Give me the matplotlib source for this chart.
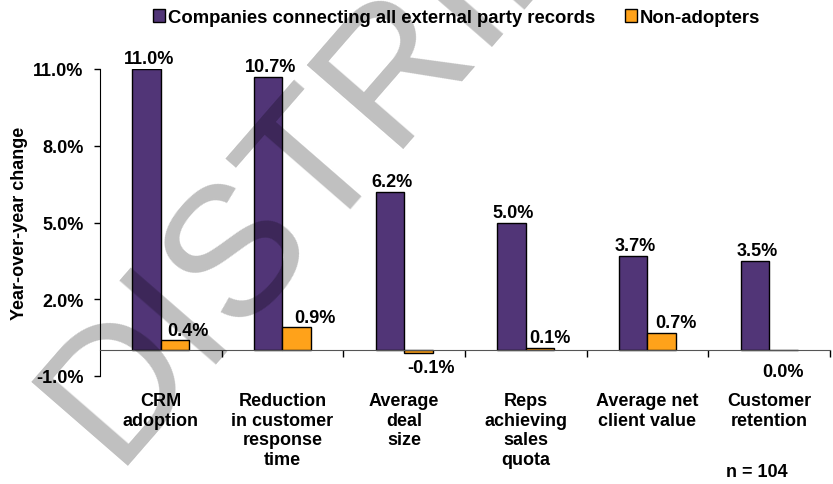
import matplotlib
matplotlib.use("Agg")
import matplotlib.pyplot as plt
import numpy as np

plt.rcParams['font.family'] = ['Liberation Sans', 'DejaVu Sans']
plt.rcParams['font.weight'] = 'bold'

categories = ['CRM\nadoption', 'Reduction\nin customer\nresponse\ntime', 'Average\ndeal\nsize',
              'Reps\nachieving\nsales\nquota', 'Average net\nclient value', 'Customer\nretention']
adopters = [11.0, 10.7, 6.2, 5.0, 3.7, 3.5]
non_adopters = [0.4, 0.9, -0.1, 0.1, 0.7, 0.0]
series_names = ['Companies connecting all external party records', 'Non-adopters']
yticks = [-1.0, 2.0, 5.0, 8.0, 11.0]

purple = '#513577'
orange = '#FFA21A'

fig = plt.figure(figsize=(8.33, 4.85), dpi=100)
ax = fig.add_axes([100/833, 1-377/485, 730/833, 307/485])

x = np.arange(len(categories))
w = 0.235
b1 = ax.bar(x - w/2, adopters, w, color=purple, edgecolor='black', linewidth=1, label=series_names[0], zorder=2)
b2 = ax.bar(x + w/2, non_adopters, w, color=orange, edgecolor='black', linewidth=1, label=series_names[1], zorder=2)

# value labels
for xi, v in zip(x, adopters):
    ax.annotate('%.1f%%' % v, (xi - w/2, v), xytext=(1.5, 4), textcoords='offset points',
                ha='center', va='baseline', fontsize=13, fontweight='bold')
orange_dx = [9, 13, 9, 7, 10, 0]
for xi, v, dx in zip(x, non_adopters, orange_dx):
    if v > 0:
        ax.annotate('%.1f%%' % v, (xi + w/2, v), xytext=(dx, 4), textcoords='offset points',
                    ha='center', va='baseline', fontsize=13, fontweight='bold')
    else:
        off = -4 if v < 0 else -9
        ax.annotate('%.1f%%' % v, (xi + w/2, v), xytext=(dx, off), textcoords='offset points',
                    ha='center', va='top', fontsize=13, fontweight='bold')

ax.set_xlim(-0.5, len(categories) - 0.5)
ax.set_ylim(-1, 11)
ax.set_yticks(yticks)
ax.set_yticklabels(['%.1f%%' % t for t in yticks])
ax.tick_params(axis='y', length=4, width=1, pad=8, labelsize=13)

ax.set_xticks(x)
ax.set_xticklabels(categories, linespacing=1.06)
ax.set_xticks(np.arange(len(categories)) + 0.5, minor=True)
ax.tick_params(axis='x', which='major', length=0, pad=30, labelsize=13)
ax.tick_params(axis='x', which='minor', length=5, width=1, direction='out')

ax.spines['top'].set_visible(False)
ax.spines['right'].set_visible(False)
ax.spines['bottom'].set_position(('data', 0))
ax.spines['bottom'].set_color('#555555')

ax.set_ylabel('Year-over-year change', fontsize=13, fontweight='bold')
ax.yaxis.set_label_coords(-0.098, 0.5)

fig.legend(handles=[b1, b2], loc='center', bbox_to_anchor=(0.548, 0.962), ncol=2, frameon=False,
           prop={'size': 13.3, 'weight': 'bold'}, handlelength=0.65, handleheight=0.65,
           handletextpad=0.15, columnspacing=1.6)

fig.text(757/833, 1-473/485, 'n = 104', ha='center', va='center', fontsize=13, fontweight='bold')

# watermark
fig.text(113/833, 1-466/485, 'DISTRIBUTE', fontsize=133, fontweight='normal', color='black', alpha=0.25,
         rotation=49, rotation_mode='anchor', ha='left', va='baseline', zorder=10)

fig.savefig('out.png', dpi=100)
